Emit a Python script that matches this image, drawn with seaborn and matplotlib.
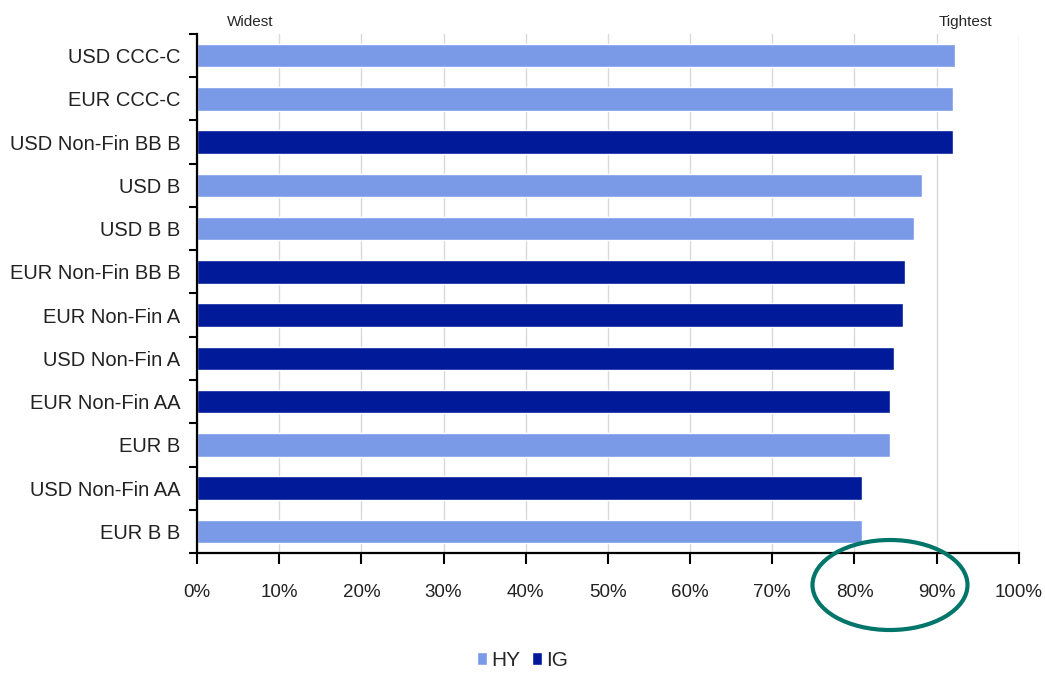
import matplotlib
matplotlib.use("Agg")
import matplotlib.pyplot as plt
import seaborn as sns
import pandas as pd
from matplotlib.patches import Ellipse
from matplotlib.ticker import PercentFormatter

# data
categories = ["USD CCC-C", "EUR CCC-C", "USD Non-Fin BBB", "USD B", "USD BB",
              "EUR Non-Fin BBB", "EUR Non-Fin A", "USD Non-Fin A", "EUR Non-Fin AA",
              "EUR B", "USD Non-Fin AA", "EUR BB"]
tick_labels = ["USD CCC-C", "EUR CCC-C", "USD Non-Fin BB B", "USD B", "USD B B",
               "EUR Non-Fin BB B", "EUR Non-Fin A", "USD Non-Fin A", "EUR Non-Fin AA",
               "EUR B", "USD Non-Fin AA", "EUR B B"]
percentile = [92.2, 92.0, 92.0, 88.2, 87.2, 86.1, 85.9, 84.8, 84.3, 84.3, 80.9, 80.9]
rating_type = ["HY", "HY", "IG", "HY", "HY", "IG", "IG", "IG", "IG", "HY", "IG", "HY"]

df = pd.DataFrame({"cat": categories, "pct": percentile, "type": rating_type})

sns.set_style("white")
plt.rcParams["font.family"] = ["Liberation Sans", "DejaVu Sans"]

fig = plt.figure(figsize=(10.45, 6.74), dpi=100)
ax = fig.add_axes([0.1885, 0.1795, 0.7865, 0.7701])

palette = {"HY": "#7A9AE8", "IG": "#001A99"}
sns.barplot(data=df, y="cat", x="pct", hue="type", hue_order=["HY", "IG"],
            palette=palette, dodge=False, width=0.54, orient="h", ax=ax,
            saturation=1, legend=True)

ax.set_xlim(0, 100)
ax.set_ylim(len(categories) - 0.5, -0.5)
ax.set_xticks(range(0, 101, 10))
ax.xaxis.set_major_formatter(PercentFormatter(decimals=0))
ax.set_yticks(range(len(categories)))
ax.set_yticklabels(tick_labels)
ax.set_yticks([i - 0.5 for i in range(len(categories) + 1)], minor=True)
ax.tick_params(axis="y", which="major", left=True, length=0, pad=12, labelsize=14.5,
               labelcolor="#222222")
ax.tick_params(axis="y", which="minor", left=True, length=6, width=1.5, color="black",
               direction="out")
ax.tick_params(axis="x", which="major", bottom=True, length=8, width=1.5, color="black",
               direction="out", pad=14, labelsize=13.5, labelcolor="#222222")
ax.set_xlabel("")
ax.set_ylabel("")

ax.grid(axis="x", color="#d9d9d9", linewidth=1)
ax.set_axisbelow(True)
for s in ["top", "right"]:
    ax.spines[s].set_visible(False)
for s in ["left", "bottom"]:
    ax.spines[s].set_color("black")
    ax.spines[s].set_linewidth(1.6)

ax.text(6.5, 1.01, "Widest", transform=ax.get_xaxis_transform(), fontsize=11, va="bottom", ha="center")
ax.text(93.5, 1.01, "Tightest", transform=ax.get_xaxis_transform(), fontsize=11, va="bottom", ha="center")

handles, labels = ax.get_legend_handles_labels()
ax.legend(handles, labels, loc="center", bbox_to_anchor=(0.5, 0.02), bbox_transform=fig.transFigure,
          ncol=2, frameon=False, fontsize=15, handlelength=0.45, handleheight=0.6,
          handletextpad=0.2, columnspacing=0.6)

ell = Ellipse((890 / 1045, 1 - 585 / 674), 155 / 1045, 90 / 674, transform=fig.transFigure,
              fill=False, edgecolor="#00756A", linewidth=3)
fig.patches.append(ell)

fig.savefig("out.png", dpi=100)
